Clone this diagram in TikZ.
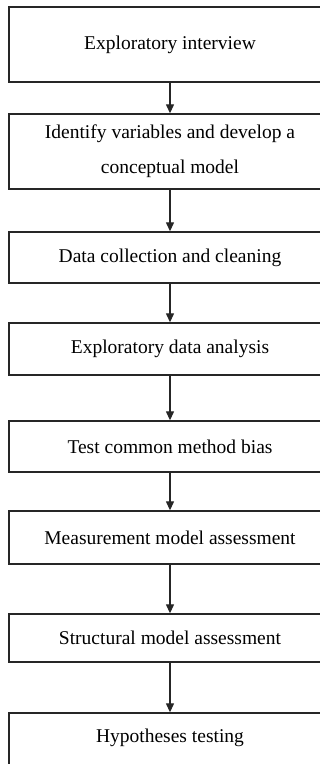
\documentclass[tikz,border=0pt]{standalone}
\usepackage{fontspec}
\setmainfont{Liberation Serif}
\usetikzlibrary{arrows.meta}
\begin{document}
\begin{tikzpicture}[x=1pt,y=-1pt,
  stepbox/.style={draw=black!85, line width=1.4pt, minimum width=322pt, inner sep=0pt, align=center,
    font=\fontsize{19.5}{35}\selectfont},
  flow/.style={draw=black!85, line width=1.3pt, -{Triangle[width=8pt,length=9pt]}}]
\useasboundingbox (0,0) rectangle (320,764);
\clip (0,0) rectangle (320,764);
\node[stepbox, minimum height=75pt] (b1) at (170,44.5) {Exploratory interview};
\node[stepbox, minimum height=75pt] (b2) at (170,151.5) {\raisebox{-4pt}{\parbox{310pt}{\centering Identify variables and develop a\\ conceptual model}}};
\node[stepbox, minimum height=51pt] (b3) at (170,257.5) {Data collection and cleaning};
\node[stepbox, minimum height=52pt] (b4) at (170,349) {Exploratory data analysis};
\node[stepbox, minimum height=51pt] (b5) at (170,446.5) {Test common method bias};
\node[stepbox, minimum height=53pt] (b6) at (170,537.5) {Measurement model assessment};
\node[stepbox, minimum height=48pt] (b7) at (170,638) {Structural model assessment};
\node[stepbox, minimum height=75pt] (b8) at (170,750.5) {};
\node[font=\fontsize{19.5}{35}\selectfont] (t8) at (170,738) {Hypotheses testing};
\draw[flow] (b1) -- (b2);
\draw[flow] (b2) -- (b3);
\draw[flow] (b3) -- (b4);
\draw[flow] (b4) -- (b5);
\draw[flow] (b5) -- (b6);
\draw[flow] (b6) -- (b7);
\draw[flow] (b7) -- (b8);
\end{tikzpicture}
\end{document}
